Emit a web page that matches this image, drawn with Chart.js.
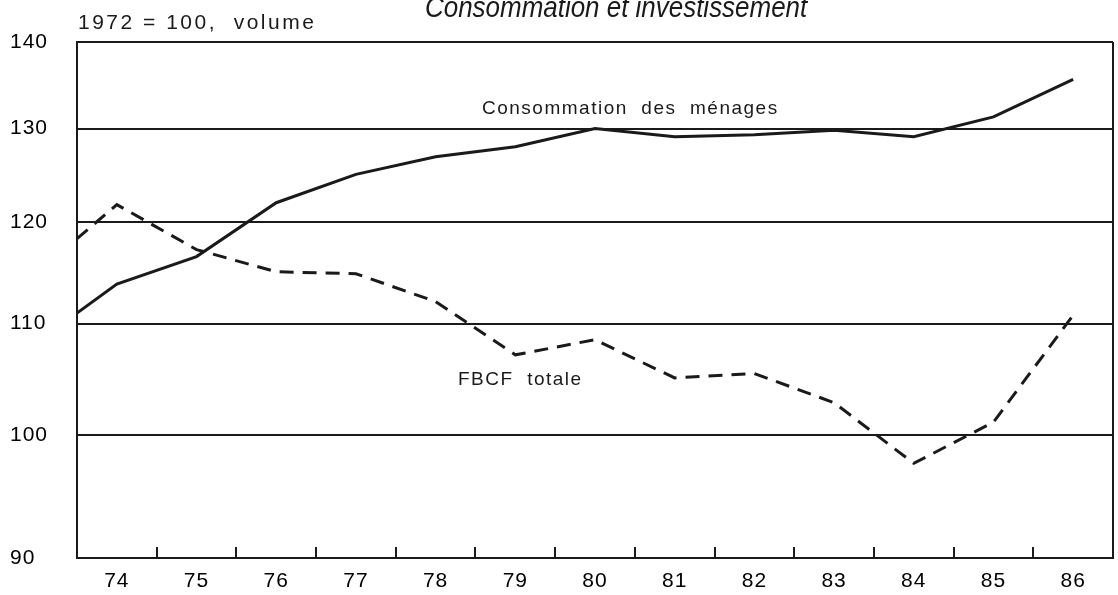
<!DOCTYPE html>
<html>
<head>
<meta charset="utf-8">
<title>Consommation et investissement</title>
<script src="https://cdn.jsdelivr.net/npm/chart.js@4"></script>
<style>
  body { margin: 0; background: #fff; }
  canvas { display: block; }
</style>
</head>
<body>
<canvas id="myChart" width="1118" height="595"></canvas>
<script>
// years (73.5 = start of the axis, values read at mid-year after that)
const years = [73.5, 74, 75, 76, 77, 78, 79, 80, 81, 82, 83, 84, 85, 86];
const consommation = [111.0, 113.8, 116.5, 122.0, 125.0, 126.9, 128.0, 130.0, 129.1, 129.3, 129.8, 129.1, 131.3, 135.6];
const fbcf = [118.3, 121.8, 117.2, 115.0, 114.8, 112.1, 107.1, 108.5, 105.0, 105.4, 102.8, 97.6, 101.1, 110.8];

const xLabels = [74, 75, 76, 77, 78, 79, 80, 81, 82, 83, 84, 85, 86];
const yTicks = [90, 100, 110, 120, 130, 140];

const ink = "#1a1a1a";
const font = "'Liberation Sans', Arial, sans-serif";

function toPoints(xs, ys) {
  return xs.map((x, i) => ({ x: x, y: ys[i] }));
}

// draws the frame bits chart.js has no option for, plus the text labels
const extras = {
  id: "extras",
  beforeDraw(chart) {
    // the old typesetting is a bit spaced out
    chart.ctx.letterSpacing = "1px";
  },
  afterDatasetsDraw(chart) {
    const ctx = chart.ctx;
    const area = chart.chartArea;
    const xs = chart.scales.x;
    ctx.save();
    ctx.strokeStyle = ink;
    ctx.lineWidth = 2;
    // right border
    ctx.beginPath();
    ctx.moveTo(area.right, area.top);
    ctx.lineTo(area.right, area.bottom);
    ctx.stroke();
    // inner tick marks between years
    xLabels.slice(0, -1).forEach((y) => {
      const px = Math.round(xs.getPixelForValue(y + 0.5));
      ctx.beginPath();
      ctx.moveTo(px, area.bottom);
      ctx.lineTo(px, area.bottom - 11);
      ctx.stroke();
    });
    ctx.restore();
  },
  afterDraw(chart) {
    const ctx = chart.ctx;
    ctx.save();
    ctx.fillStyle = ink;
    ctx.textBaseline = "alphabetic";
    ctx.textAlign = "left";

    // title is clipped by the top edge in the original, and a bit narrow
    ctx.save();
    ctx.letterSpacing = "0px";
    ctx.font = "italic 30px " + font;
    ctx.translate(425, 17);
    ctx.scale(0.865, 1);
    ctx.fillText("Consommation et investissement", 0, 0);
    ctx.restore();

    ctx.letterSpacing = "2.5px";
    ctx.font = "21px " + font;
    ctx.fillText("1972 = 100,  volume", 78, 29);

    ctx.letterSpacing = "1.5px";
    ctx.font = "19px " + font;
    ctx.fillText("Consommation  des  ménages", 482, 114);
    ctx.fillText("FBCF  totale", 458, 385);
    ctx.restore();
  }
};

const chart = new Chart(document.querySelector("#myChart"), {
  type: "line",
  data: {
    datasets: [
      {
        label: "Consommation des ménages",
        data: toPoints(years, consommation),
        borderColor: ink,
        borderWidth: 3,
        pointRadius: 0,
        tension: 0
      },
      {
        label: "FBCF totale",
        data: toPoints(years, fbcf),
        borderColor: ink,
        borderWidth: 3,
        borderDash: [14, 9],
        pointRadius: 0,
        tension: 0
      }
    ]
  },
  options: {
    responsive: false,
    animation: false,
    devicePixelRatio: 1,
    layout: { padding: { top: 42, right: 5, left: 10, bottom: 0 } },
    plugins: {
      legend: { display: false },
      tooltip: { enabled: false }
    },
    scales: {
      x: {
        type: "linear",
        min: 73.5,
        max: 86.5,
        afterBuildTicks: (scale) => {
          scale.ticks = xLabels.map((v) => ({ value: v }));
        },
        afterFit: (scale) => { scale.height = 37; },
        grid: { display: false },
        border: { display: true, color: ink, width: 2 },
        ticks: {
          color: "#000",
          font: { family: font, size: 21 },
          padding: 3,
          maxRotation: 0,
          autoSkip: false,
          callback: (v) => String(v)
        }
      },
      y: {
        type: "logarithmic",
        min: 90,
        max: 140,
        afterBuildTicks: (scale) => {
          scale.ticks = yTicks.map((v) => ({ value: v }));
        },
        afterFit: (scale) => { scale.width = 67; },
        grid: { color: ink, lineWidth: 2, drawTicks: false },
        border: { display: true, color: ink, width: 2 },
        ticks: {
          color: "#000",
          crossAlign: "far",
          font: { family: font, size: 21 },
          callback: (v) => String(v)
        }
      }
    }
  },
  plugins: [extras]
});
</script>
</body>
</html>
